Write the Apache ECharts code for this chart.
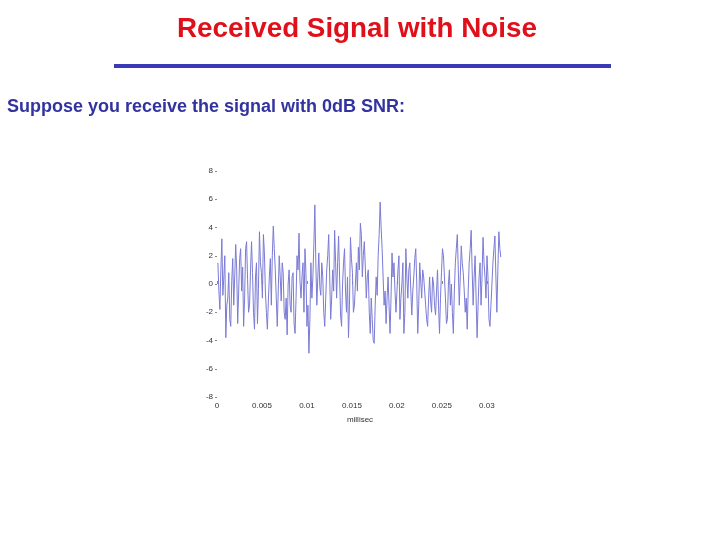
<!DOCTYPE html>
<html>
<head>
<meta charset="utf-8">
<script src="https://cdn.jsdelivr.net/npm/echarts@6/dist/echarts.min.js"></script>
<style>
html,body{margin:0;padding:0;background:#fff;}
#c{width:720px;height:540px;}
</style>
</head>
<body>
<div id="c"></div>
<script>
const titleText = "Received Signal with Noise";
const subtitleText = "Suppose you receive the signal with 0dB SNR:";
const xAxisName = "millisec";
const sampleStep = 0.00011; // ms between samples
const sampleStart = 0.0001;
const signal = [
  1.5, -0.5, -1.8, 1.0, 3.2, -0.8, 0.5, 2.0, -3.8, -1.5, -1.0, 0.8, -2.5, -3.0, 0.2, 1.8, -1.5, 0.5, 2.8, 1.0,
  -2.8, -0.5, 1.8, 2.5, -0.5, 1.2, -3.0, -1.0, 2.5, 3.0, 0.3, -2.0, -1.5, 1.0, 3.0, 0.8, -2.0, -3.2, 0.5, 1.5,
  -2.8, -0.3, 3.7, 1.5, 0.8, -1.0, 3.5, 2.2, -0.5, -2.0, -3.2, -1.2, 0.5, 1.8, -1.5, 2.0, 4.1, 2.5, 1.0, -1.0,
  -3.0, -0.5, 2.0, 0.5, -1.2, 1.5, 0.8, -2.0, -2.5, -1.0, -3.6, 0.0, 1.0, -1.5, -2.0, 0.5, 0.8, -2.8, -3.5, -1.0,
  2.0, 1.0, 3.6, 0.2, -1.0, 0.5, 1.5, -2.0, 2.5, 0.8, -3.0, -1.5, -4.9, -2.5, 1.5, -1.0, 0.5, 2.8, 5.6, 1.5,
  -1.5, 0.5, 2.2, -0.2, -0.8, 1.5, 0.5, -2.0, -3.0, -1.0, 1.0, 2.0, 3.5, 0.5, -2.5, -1.0, 1.0, -0.5, 3.8, 1.5,
  -1.0, 1.5, 3.4, 0.5, -2.2, -3.0, 0.0, 1.5, 2.5, -0.5, -2.0, 0.5, -3.8, -1.5, 3.3, 1.8, 0.8, -2.0, -1.5, 0.0,
  1.5, -0.5, 2.6, 1.0, 4.3, 3.5, 0.5, 2.0, 3.0, 1.2, -1.0, 0.5, 1.0, -2.0, -3.5, -1.0, -2.5, -4.0, -4.2, -1.5,
  0.5, -0.8, 2.0, 3.5, 5.8, 4.0, 2.5, 0.5, -1.5, -0.5, -2.8, -1.0, 0.5, -1.5, -3.5, -1.0, 2.2, 0.5, 1.5, -0.5,
  -2.0, -0.5, 1.0, 2.0, -2.5, -1.0, 0.0, 1.5, -3.5, -2.0, 2.5, 0.5, -1.0, 1.0, 1.5, -0.5, -2.2, -0.5, 0.5, 1.8,
  2.5, 0.0, -3.5, -1.5, 1.5, 0.2, -1.0, 1.0, 0.5, -0.5, -1.5, -2.5, -3.0, -1.0, 0.5, -1.2, -2.0, 0.5, 0.0, -1.5,
  -2.2, -0.5, 1.0, -1.5, -3.5, -1.0, 0.8, 2.5, 2.0, 0.5, -1.0, -2.8, -2.5, 0.0, 1.0, -1.5, 0.0, -2.0, -3.5, -0.5,
  1.5, 2.5, 3.5, 1.0, -1.5, 0.5, 2.7, 1.5, 0.8, -0.5, -2.0, -1.0, -3.2, -0.5, 1.5, 2.5, 3.8, 1.0, -1.5, 0.5,
  2.0, -1.0, -3.8, -1.5, 0.5, 1.5, -1.5, 0.5, 3.3, 1.5, 0.5, -1.0, 2.0, 0.5, -2.5, -3.0, -1.5, 0.0, 1.5, 2.5,
  3.4, 0.5, -2.0, 1.0, 3.7, 2.5, 1.9
];
const xTicks = { min: 0, max: 0.0318, interval: 0.005 };
const yTicks = { min: -8, max: 8, interval: 2 };

const FONT = "'Liberation Sans', Arial, sans-serif";
const pts = signal.map((v, i) => [sampleStart + i * sampleStep, v]);

const chart = echarts.init(document.getElementById('c'), null, {renderer: 'canvas'});
chart.setOption({
  backgroundColor: '#ffffff',
  animation: false,
  title: [{
    text: titleText,
    left: 357, top: 15, textAlign: 'center', padding: 0,
    textStyle: {color: '#e0101a', fontSize: 27.8, fontWeight: 'bold', fontFamily: FONT}
  }, {
    text: subtitleText,
    left: 7, top: 98, padding: 0,
    textStyle: {color: '#3333a0', fontSize: 18, fontWeight: 'bold', fontFamily: FONT}
  }],
  graphic: [{
    type: 'rect',
    shape: {x: 114, y: 64, width: 497, height: 4},
    style: {fill: '#3a3ab8'}
  }],
  grid: {left: 217, right: 217, top: 171, bottom: 143},
  xAxis: {
    type: 'value',
    min: xTicks.min, max: xTicks.max, interval: xTicks.interval,
    name: xAxisName, nameLocation: 'middle', nameGap: 19,
    nameTextStyle: {color: '#333', fontSize: 8, fontFamily: FONT},
    axisLine: {show: false},
    axisTick: {show: true, length: 3, inside: true, lineStyle: {color: '#888'}},
    splitLine: {show: false},
    axisLabel: {
      color: '#333', fontSize: 8, margin: 5, showMaxLabel: false,
      fontFamily: FONT,
      formatter: v => String(+v.toFixed(3))
    }
  },
  yAxis: {
    type: 'value',
    min: yTicks.min, max: yTicks.max, interval: yTicks.interval,
    axisLine: {show: false},
    axisTick: {show: true, length: 2, lineStyle: {color: '#888'}},
    splitLine: {show: false},
    axisLabel: {color: '#333', fontSize: 8, margin: 4, fontFamily: FONT}
  },
  series: [{
    type: 'line',
    data: pts,
    showSymbol: false,
    lineStyle: {color: '#7b7bd6', width: 1},
    emphasis: {disabled: true}
  }]
});
</script>
</body>
</html>
